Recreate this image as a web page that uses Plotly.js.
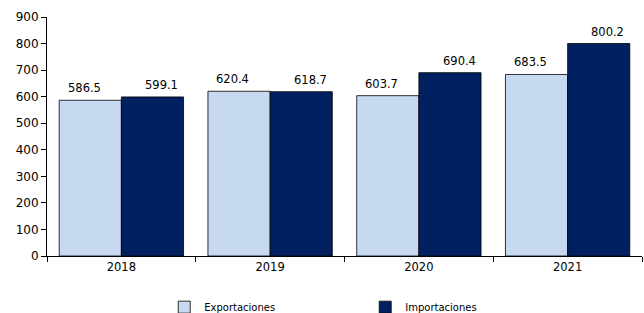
<!DOCTYPE html>
<html><head><meta charset="utf-8">
<script src="https://cdn.plot.ly/plotly-3.0.1.min.js"></script>
<style>html,body{margin:0;padding:0;background:#fff}</style>
</head><body><div id="chart" style="width:644px;height:313px"></div>
<script>
const years = ['2018','2019','2020','2021'];
const exportaciones = [586.5, 620.4, 603.7, 683.5];
const importaciones = [599.1, 618.7, 690.4, 800.2];
const seriesNames = ['Exportaciones','Importaciones'];
const yTicks = [0,100,200,300,400,500,600,700,800,900];

const font = {family:'DejaVu Sans, Verdana, sans-serif', size:11, color:'#000'};
const traces = [
 {type:'bar', x:years, y:exportaciones, name:seriesNames[0],
  marker:{color:'#C6D9F1', line:{color:'#000', width:0.8}}},
 {type:'bar', x:years, y:importaciones, name:seriesNames[1],
  marker:{color:'#002060', line:{color:'#000', width:0.8}}}
];
const annotations = [];
years.forEach((yr,i)=>{
  annotations.push({x:i-0.21, y:exportaciones[i], text:exportaciones[i].toFixed(1), xref:'x', yref:'y',
    showarrow:false, yanchor:'bottom', yshift:3, xshift:-6, font:{...font, size:11.5}});
  annotations.push({x:i+0.21, y:importaciones[i], text:importaciones[i].toFixed(1), xref:'x', yref:'y',
    showarrow:false, yanchor:'bottom', yshift:3, xshift:9, font:{...font, size:11.5}});
});
const layout = {
  width:644, height:313,
  margin:{l:47, r:2, t:17, b:57},
  paper_bgcolor:'#fff', plot_bgcolor:'#fff',
  font:font,
  barmode:'group', bargap:0.164, bargroupgap:0,
  showlegend:true,
  legend:{orientation:'h', xref:'container', x:0.255, xanchor:'left', yref:'container', y:0.065, yanchor:'top',
    font:{...font, size:10}, itemwidth:30, traceorder:'normal', entrywidth:156},
  xaxis:{type:'category', range:[-0.5,3.5], showline:true, linecolor:'#000', linewidth:1,
    ticks:'outside', ticklen:5, tickcolor:'#000', tickson:'boundaries', tickangle:0,
    showgrid:false, zeroline:false, tickfont:{...font, size:11.5}},
  yaxis:{range:[0,900], tickvals:yTicks, showline:true, linecolor:'#000', linewidth:1,
    ticks:'outside', ticklen:5, tickcolor:'#000', showgrid:false, zeroline:false,
    tickfont:{...font, size:12}, fixedrange:true},
  annotations:annotations
};
Plotly.newPlot('chart', traces, layout, {displayModeBar:false, staticPlot:true});
</script></body></html>
